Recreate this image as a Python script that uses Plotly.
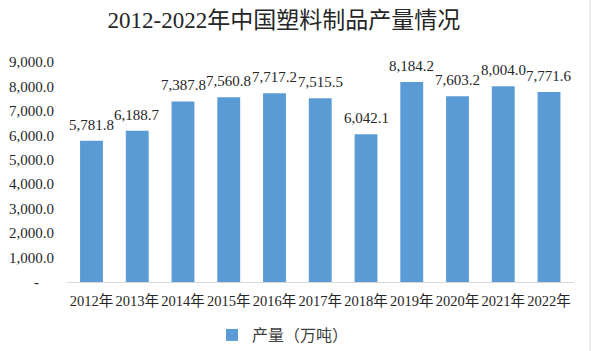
import plotly.graph_objects as go

years = ["2012年", "2013年", "2014年", "2015年", "2016年", "2017年", "2018年", "2019年", "2020年", "2021年", "2022年"]
output = [5781.8, 6188.7, 7387.8, 7560.8, 7717.2, 7515.5, 6042.1, 8184.2, 7603.2, 8004.0, 7771.6]
tick_vals = [0, 1000, 2000, 3000, 4000, 5000, 6000, 7000, 8000, 9000]
tick_text = ["-    "] + [f"{v:,.1f}" for v in tick_vals[1:]]

FONT = "Liberation Serif, Times New Roman, Noto Sans CJK SC, serif"

fig = go.Figure()
fig.add_trace(go.Bar(
    x=years, y=output, name="产量（万吨）",
    marker=dict(color="#5B9BD5", line=dict(width=0)),
    cliponaxis=False,
))
for yr, v in zip(years, output):
    fig.add_annotation(x=yr, y=v, xref="x", yref="y", text=f"{v:,.1f}",
                       showarrow=False, yanchor="bottom", yshift=6,
                       font=dict(size=15, color="#262626", family=FONT))
fig.update_layout(
    width=594, height=351,
    margin=dict(l=67, r=20, t=62, b=69, autoexpand=False),
    paper_bgcolor="white", plot_bgcolor="white",
    title=dict(text="2012-2022年中国塑料制品产量情况", x=0.478, xanchor="center",
               y=0.943, yanchor="middle", font=dict(size=23, color="#262626", family=FONT)),
    font=dict(family=FONT, color="#404040", size=13),
    bargap=0.5,
    showlegend=True,
    legend=dict(orientation="h", x=0.286, xanchor="left", y=-0.241, yanchor="middle",
                itemwidth=30,
                font=dict(size=16, color="#404040", family=FONT)),
    xaxis=dict(showline=True, linecolor="#D9D9D9", linewidth=1, ticks="",
               tickangle=0, ticklabelstandoff=6,
               tickfont=dict(size=14.5, color="#262626")),
    yaxis=dict(range=[0, 9000], tickvals=tick_vals, ticktext=tick_text, showgrid=False,
               zeroline=False, tickfont=dict(size=15, color="#262626"), ticks="",
               ticklabelstandoff=12),
)
fig.add_shape(type="line", xref="paper", yref="paper", x0=1.0 + 16/507, x1=1.0 + 16/507,
              y0=-69/220, y1=1 + 62/220, line=dict(color="#D9D9D9", width=1))
fig.write_html("out.html")
